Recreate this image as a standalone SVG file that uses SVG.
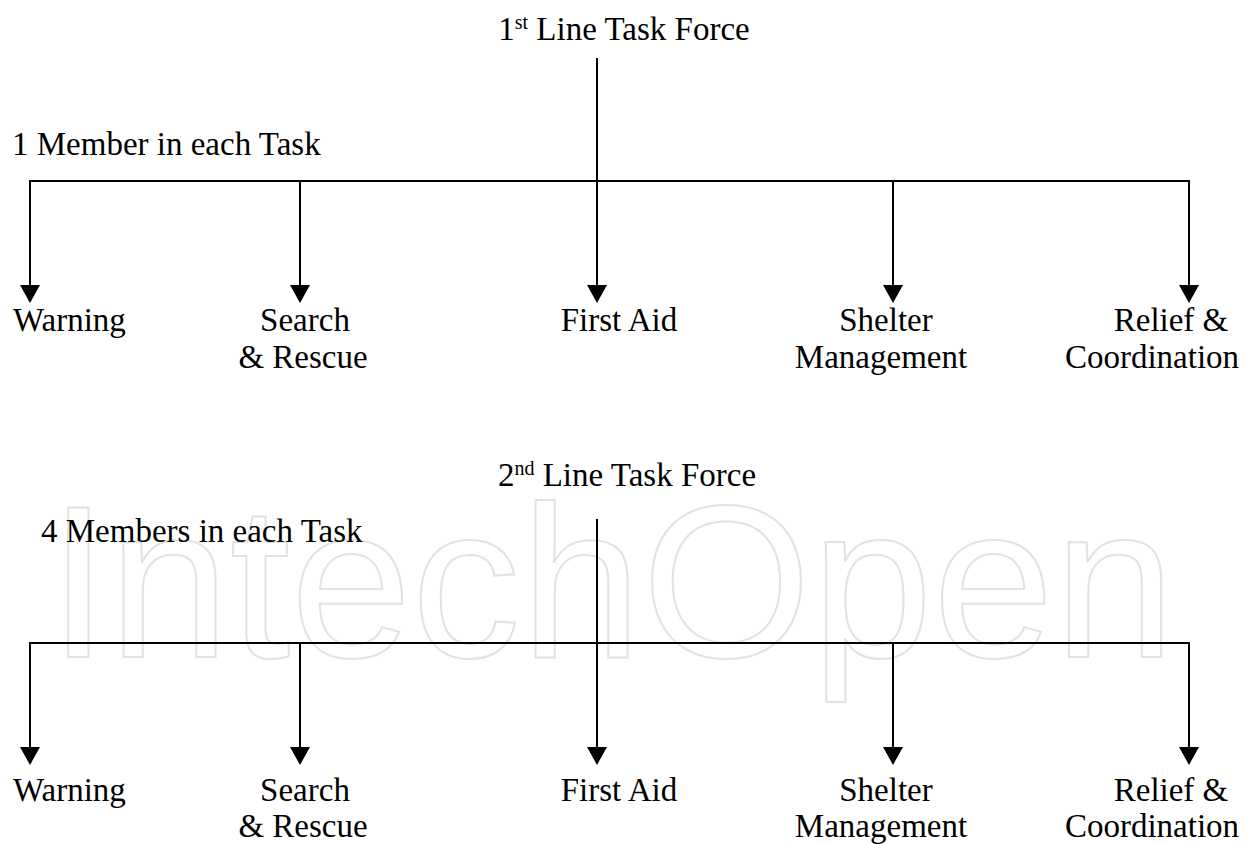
<svg xmlns="http://www.w3.org/2000/svg" width="1255" height="844" viewBox="0 0 1255 844">
<style>
.t{font-family:"Liberation Serif","Times New Roman",serif;font-size:33px;fill:#000}
.m{text-anchor:middle}
.sup{font-size:20px}
.ln{stroke:#000;stroke-width:2;fill:none}
.wm{font-family:"Liberation Sans",Arial,sans-serif;font-size:218px;fill:none;stroke:#e2e2e2;stroke-width:2}
</style>
<defs>
<marker id="ah" markerUnits="userSpaceOnUse" markerWidth="20" markerHeight="20" viewBox="0 0 18 20" refX="11" refY="10" orient="auto">
<path d="M0,0 L18,10 L0,20 z" fill="#000"/>
</marker>
</defs>
<rect width="1255" height="844" fill="#fff"/>
<text class="wm" x="48" y="657">IntechOpen</text>

<g id="connectors">
<line class="ln" x1="597" y1="58" x2="597" y2="181"/>
<line class="ln" x1="29" y1="181" x2="1190" y2="181"/>
<line class="ln" x1="30" y1="181" x2="30" y2="296" marker-end="url(#ah)"/>
<line class="ln" x1="300" y1="181" x2="300" y2="296" marker-end="url(#ah)"/>
<line class="ln" x1="597" y1="181" x2="597" y2="296" marker-end="url(#ah)"/>
<line class="ln" x1="893" y1="181" x2="893" y2="296" marker-end="url(#ah)"/>
<line class="ln" x1="1189" y1="181" x2="1189" y2="296" marker-end="url(#ah)"/>

<line class="ln" x1="597" y1="519" x2="597" y2="643"/>
<line class="ln" x1="29" y1="643" x2="1190" y2="643"/>
<line class="ln" x1="30" y1="643" x2="30" y2="758" marker-end="url(#ah)"/>
<line class="ln" x1="300" y1="643" x2="300" y2="758" marker-end="url(#ah)"/>
<line class="ln" x1="597" y1="643" x2="597" y2="758" marker-end="url(#ah)"/>
<line class="ln" x1="893" y1="643" x2="893" y2="758" marker-end="url(#ah)"/>
<line class="ln" x1="1189" y1="643" x2="1189" y2="758" marker-end="url(#ah)"/>
</g>

<g id="tf1"><text class="t m" x="624" y="40">1<tspan class="sup" dy="-11">st</tspan><tspan dy="11"> Line Task Force</tspan></text></g>
<g id="note1"><text class="t" x="12" y="155">1 Member in each Task</text></g>
<g id="warning1"><text class="t" x="13" y="331">Warning</text></g>
<g id="search1"><text class="t m" x="305" y="331">Search</text><text class="t m" x="303" y="368">&amp; Rescue</text></g>
<g id="firstaid1"><text class="t m" x="619" y="331">First Aid</text></g>
<g id="shelter1"><text class="t m" x="886" y="331">Shelter</text><text class="t m" x="881" y="368">Management</text></g>
<g id="relief1"><text class="t m" x="1171" y="331">Relief &amp;</text><text class="t m" x="1152" y="368">Coordination</text></g>

<g id="tf2"><text class="t m" x="627" y="486">2<tspan class="sup" dy="-11">nd</tspan><tspan dy="11"> Line Task Force</tspan></text></g>
<g id="note2"><text class="t" x="41" y="542">4 Members in each Task</text></g>
<g id="warning2"><text class="t" x="13" y="801">Warning</text></g>
<g id="search2"><text class="t m" x="305" y="801">Search</text><text class="t m" x="303" y="837">&amp; Rescue</text></g>
<g id="firstaid2"><text class="t m" x="619" y="801">First Aid</text></g>
<g id="shelter2"><text class="t m" x="886" y="801">Shelter</text><text class="t m" x="881" y="837">Management</text></g>
<g id="relief2"><text class="t m" x="1171" y="801">Relief &amp;</text><text class="t m" x="1152" y="837">Coordination</text></g>
</svg>
